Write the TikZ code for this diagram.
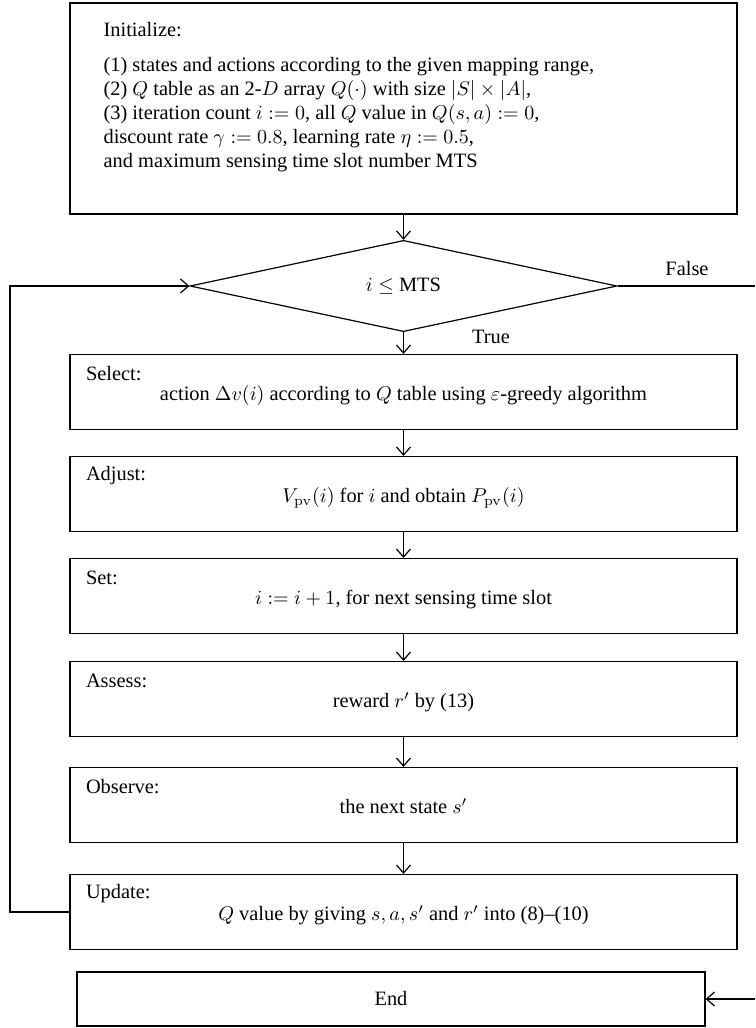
\documentclass[tikz,border=0pt]{standalone}
\usepackage[no-math]{fontspec}
\setmainfont{Liberation Serif}
\usetikzlibrary{shapes.geometric,arrows.meta,positioning}

\begin{document}
\begin{tikzpicture}[x=0.5pt, y=-0.5pt, line width=0.6pt, font=\fontsize{10.2}{12}\selectfont,
  box/.style = {draw, minimum width=333.5pt, minimum height=37.5pt, inner sep=0pt},
  low/.style = {text height=11pt, text depth=2.5pt},
  tag/.style = {anchor=west, inner sep=0pt},
  cond/.style = {draw, diamond, minimum width=213.5pt, minimum height=38pt, inner sep=0pt},
  arr/.style = {-{Straight Barb[length=4pt,width=7pt]}}]
  \useasboundingbox (0,0) rectangle (755,1028);
  % initial block
  \node[box, minimum height=105.5pt] (init) at (403.5,108.5) {};
  \node[tag] (initT) at (103,30) {Initialize:};
  \node[anchor=north west, align=left, inner sep=0pt] (initL) at (103,57)
    {(1) states and actions according to the given mapping range,\\
     (2) $Q$ table as an 2-$D$ array $Q(\cdot)$ with size $|S|\times|A|$,\\
     (3) iteration count $i:=0$, all $Q$ value in $Q(s,a):=0$,\\
     discount rate $\gamma:=0.8$, learning rate $\eta:=0.5$,\\
     and maximum sensing time slot number MTS};
  % loop test
  \node[cond] (test) at (403.5,286) {$i\leq$ MTS};
  \node (ftag) at (687,269) {False};
  \node (ttag) at (491,337) {True};
  % steps
  \node[box, low] (sel) at (403.5,392) {action $\Delta v(i)$ according to $Q$ table using $\varepsilon$-greedy algorithm};
  \node[box, low] (adj) at (403.5,494) {$V_{\mathrm{pv}}(i)$ for $i$ and obtain $P_{\mathrm{pv}}(i)$};
  \node[box, low] (inc) at (403.5,596) {$i:=i+1$, for next sensing time slot};
  \node[box, low] (rew) at (403.5,699) {reward $r'$ by (13)};
  \node[box, low] (obs) at (403.5,805) {the next state $s'$};
  \node[box, low] (upd) at (403.5,912) {$Q$ value by giving $s,a,s'$ and $r'$ into (8)--(10)};
  \node[box, minimum width=314pt, minimum height=27pt] (stop) at (391,999) {End};
  \node[tag] (selT) at ([shift={(16,20)}]sel.north west) {Select:};
  \node[tag] (adjT) at ([shift={(16,20)}]adj.north west) {Adjust:};
  \node[tag] (incT) at ([shift={(16,20)}]inc.north west) {Set:};
  \node[tag] (rewT) at ([shift={(16,20)}]rew.north west) {Assess:};
  \node[tag] (obsT) at ([shift={(16,20)}]obs.north west) {Observe:};
  \node[tag] (updT) at ([shift={(16,20)}]upd.north west) {Update:};
  % connectors
  \coordinate (back) at (10,912);
  \coordinate (fout) at (755,286);
  \coordinate (fin) at (755,999);
  \draw[arr] (init.south) -- (test.north);
  \draw[arr] (test.south) -- (sel.north);
  \draw[arr] (sel) -- (adj);
  \draw[arr] (adj) -- (inc);
  \draw[arr] (inc) -- (rew);
  \draw[arr] (rew) -- (obs);
  \draw[arr] (obs) -- (upd);
  \draw[arr] (upd.west) -- (back) |- (test.west);
  \draw (test.east) -- (fout);
  \draw[arr] (fin) -- (stop.east);
\end{tikzpicture}
\end{document}
